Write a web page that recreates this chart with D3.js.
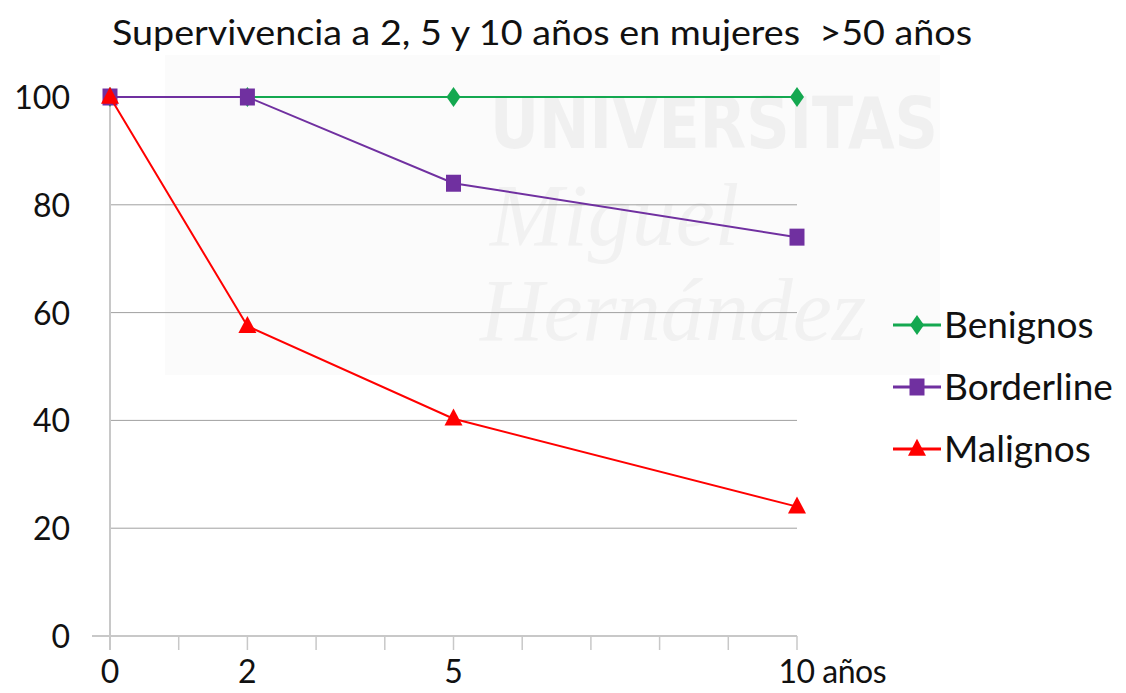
<!DOCTYPE html>
<html>
<head>
<meta charset="utf-8">
<script src="https://cdn.jsdelivr.net/npm/d3@7"></script>
<style>
  body { margin: 0; background: #fff; }
  svg { font-family: Lato, "Open Sans", sans-serif; }
</style>
</head>
<body>
<svg width="1126" height="693"></svg>
<script>
const years = [0, 2, 5, 10];
const benignos = [100, 100, 100, 100];
const borderline = [100, 100, 84, 74];
const malignos = [100, 57.5, 40.3, 24];
const yTicks = [0, 20, 40, 60, 80, 100];
const xLabels = [0, 2, 5, 10];

// formas de marcador (ancho, alto)
const shapes = {
  diamond: (w, h) => `M0,${-h / 2}L${w / 2},0L0,${h / 2}L${-w / 2},0Z`,
  square: (w, h) => `M${-w / 2},${-h / 2}h${w}v${h}h${-w}Z`,
  triangle: (w, h) => `M0,${-h * 0.6}L${w / 2},${h * 0.4}L${-w / 2},${h * 0.4}Z`
};

const series = [
  { name: "Benignos", values: benignos, color: "#14a850", shape: "diamond", w: 14, h: 20 },
  { name: "Borderline", values: borderline, color: "#7030a0", shape: "square", w: 15, h: 17 },
  { name: "Malignos", values: malignos, color: "#ff0000", shape: "triangle", w: 18, h: 17 }
];

const svg = d3.select("svg");

const x = d3.scaleLinear().domain([0, 10]).range([110, 797]);
const y = d3.scaleLinear().domain([0, 100]).range([636, 97]);

// marca de agua
const wm = svg.append("g").attr("class", "watermark");
wm.append("rect")
  .attr("x", 165).attr("y", 55).attr("width", 775).attr("height", 320)
  .attr("fill", "#fbfbfb");
wm.append("text")
  .attr("x", 490).attr("y", 148)
  .attr("font-family", "'DejaVu Sans Condensed', 'Liberation Sans Narrow', sans-serif")
  .attr("font-weight", "bold").attr("font-size", 72)
  .attr("textLength", 448).attr("lengthAdjust", "spacingAndGlyphs")
  .attr("fill", "#f0f0f0").text("UNIVERSITAS");
wm.append("text")
  .attr("x", 490).attr("y", 245)
  .attr("font-family", "'Liberation Serif', serif")
  .attr("font-style", "italic").attr("font-size", 88)
  .attr("fill", "#f1f1f1").text("Miguel");
wm.append("text")
  .attr("x", 480).attr("y", 340)
  .attr("font-family", "'Liberation Serif', serif")
  .attr("font-style", "italic").attr("font-size", 88)
  .attr("fill", "#f1f1f1").text("Hernández");

// cuadrícula
svg.append("g")
  .selectAll("line")
  .data(yTicks.filter((d) => d > 0))
  .join("line")
  .attr("x1", x(0)).attr("x2", x(10))
  .attr("y1", (d) => y(d)).attr("y2", (d) => y(d))
  .attr("stroke", "#a0a0a0").attr("stroke-width", 1);

// eje x
const xAxis = svg.append("g").attr("transform", `translate(0,${y(0)})`);
xAxis.append("line")
  .attr("x1", 92).attr("x2", x(10))
  .attr("stroke", "#c8c8c8").attr("stroke-width", 2);
xAxis.selectAll(".tick")
  .data(d3.range(0, 11))
  .join("line")
  .attr("x1", (d) => x(d)).attr("x2", (d) => x(d))
  .attr("y1", 0).attr("y2", 14)
  .attr("stroke", "#c8c8c8").attr("stroke-width", 1.5);
xAxis.selectAll("text")
  .data(xLabels)
  .join("text")
  .attr("x", (d) => x(d))
  .attr("y", 47)
  .attr("text-anchor", "middle")
  .attr("font-size", 32)
  .attr("fill", "#111")
  .text((d) => d)
  .filter((d) => d === 10)
  .each(function () {
    const w = this.getComputedTextLength();
    d3.select(this).attr("text-anchor", "start").attr("dx", -w / 2)
      .attr("letter-spacing", -0.5);
  })
  .append("tspan").text(" años");

// eje y
svg.append("line")
  .attr("x1", x(0)).attr("x2", x(0))
  .attr("y1", y(100)).attr("y2", y(0) + 14)
  .attr("stroke", "#c8c8c8").attr("stroke-width", 2);
svg.append("g")
  .selectAll("text")
  .data(yTicks)
  .join("text")
  .attr("x", 70)
  .attr("y", (d) => y(d) + 12)
  .attr("text-anchor", "end")
  .attr("font-size", 32)
  .attr("fill", "#111")
  .text((d) => d);

// series
const line = d3.line()
  .x((d, i) => x(years[i]))
  .y((d) => y(d));

series.forEach((s) => {
  const g = svg.append("g");
  g.append("path")
    .datum(s.values)
    .attr("d", line)
    .attr("fill", "none")
    .attr("stroke", s.color)
    .attr("stroke-width", 2);
  g.selectAll("path.m")
    .data(s.values)
    .join("path")
    .attr("class", "m")
    .attr("transform", (d, i) => `translate(${x(years[i])},${y(d)})`)
    .attr("d", shapes[s.shape](s.w, s.h))
    .attr("fill", s.color);
});

// leyenda
const legend = svg.append("g").attr("transform", "translate(893,325)");
const items = legend.selectAll("g")
  .data(series)
  .join("g")
  .attr("transform", (d, i) => `translate(0,${i * 62})`);
items.append("line")
  .attr("x1", 0).attr("x2", 48)
  .attr("stroke", (d) => d.color).attr("stroke-width", 3);
items.append("path")
  .attr("transform", "translate(24,0)")
  .attr("d", (d) => shapes[d.shape](d.w, d.h))
  .attr("fill", (d) => d.color);
items.append("text")
  .attr("x", 51).attr("y", 13)
  .attr("font-size", 37)
  .attr("fill", "#111")
  .text((d) => d.name);

// título
svg.append("text")
  .attr("x", 542).attr("y", 45)
  .attr("text-anchor", "middle")
  .attr("font-size", 35)
  .attr("textLength", 860).attr("lengthAdjust", "spacingAndGlyphs")
  .attr("fill", "#111")
  .attr("xml:space", "preserve")
  .text("Supervivencia a 2, 5 y 10 años en mujeres  >50 años");
</script>
</body>
</html>
